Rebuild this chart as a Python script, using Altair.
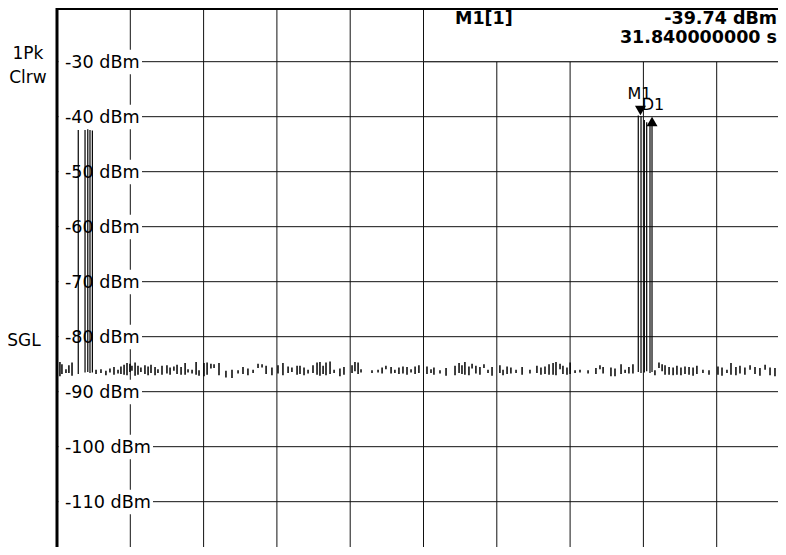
import altair as alt
import pandas as pd

# ---------------- data ----------------
grid_t = [4, 8, 12, 16, 20, 24, 28, 32, 36]                 # s
grid_db = [-30, -40, -50, -60, -70, -80, -90, -100, -110]    # dBm
tick_labels = ["-30 dBm", "-40 dBm", "-50 dBm", "-60 dBm", "-70 dBm",
               "-80 dBm", "-90 dBm", "-100 dBm", "-110 dBm"]

# noise floor: short vertical trace segments (time, upper, lower)
noise_t = [0.16, 0.27, 0.49, 0.65, 0.82,
           2.13, 2.40, 2.67, 2.89, 3.11, 3.33, 3.49, 3.66, 3.82, 3.98, 4.09,
           4.26, 4.42, 4.58, 4.80, 4.97, 5.13, 5.35, 5.51, 5.73,
           6.00, 6.17, 6.38, 6.55, 6.77, 6.99, 7.15, 7.37,
           7.59, 7.75, 8.02,
           8.19, 8.40, 8.57, 8.84, 9.22, 9.55,
           9.88, 10.15, 10.42, 10.70, 10.97, 11.19, 11.41, 11.73, 12.06, 12.33, 12.61, 12.82, 13.10,
           13.26, 13.48, 13.70, 13.97, 14.19, 14.35, 14.52, 14.68, 14.90, 15.12, 15.44, 15.66,
           16.10, 16.26, 16.43, 16.59,
           17.19, 17.52, 17.74, 17.95, 18.23, 18.44, 18.66, 18.88, 19.10, 19.32, 19.54, 19.75,
           20.19, 20.41, 20.57, 20.90, 21.23,
           21.72, 21.94, 22.10, 22.26, 22.48, 22.65, 22.86, 23.08, 23.30, 23.52, 23.74,
           24.17, 24.34, 24.56, 24.77, 25.05, 25.38, 25.81, 26.19, 26.41,
           26.63, 26.85, 27.07, 27.23, 27.45, 27.61, 27.83, 28.00,
           28.27, 28.54, 28.98, 29.41, 29.63, 29.80, 30.23, 30.45, 30.78, 31.00, 31.21, 31.43,
           32.63, 32.85, 33.02, 33.18, 33.40, 33.62, 33.83, 34.05, 34.27, 34.49, 34.71, 34.92, 35.25, 35.58,
           36.07, 36.29, 36.56, 36.78, 37.05, 37.27, 37.54, 37.82, 38.09, 38.36, 38.64, 38.91, 39.18, 39.40, 39.62]
noise_hi = [-84.6, -85.0, -85.9, -85.2, -84.7,
            -86.0, -85.9, -86.2, -85.8, -85.5, -86.0, -85.4, -85.1, -84.8, -84.9, -85.3,
            -84.7, -85.3, -85.6, -85.2, -85.4, -85.1, -85.5, -85.9, -85.3,
            -85.2, -85.6, -85.4, -85.1, -85.5, -84.8, -85.9, -86.0,
            -84.6, -86.1, -84.8,
            -84.7, -84.9, -85.0, -84.8, -86.2, -86.0,
            -86.1, -85.5, -85.8, -86.0, -84.9, -85.0, -85.3, -85.6, -85.2, -84.8, -85.4, -85.6, -85.3,
            -85.3, -85.6, -86.0, -85.2, -84.7, -84.6, -85.3, -84.7, -84.5, -86.0, -85.8, -85.5,
            -85.2, -84.6, -84.7, -85.9,
            -86.1, -86.0, -85.6, -85.3, -85.5, -86.0, -85.6, -85.4, -85.5, -85.9, -85.4, -85.2,
            -85.4, -85.9, -85.6, -86.1, -85.7,
            -85.3, -84.8, -85.2, -84.6, -85.4, -84.9, -85.3, -85.5, -85.0, -86.0, -85.5,
            -85.2, -86.0, -85.4, -85.6, -86.0, -85.5, -86.0, -85.3, -85.6,
            -85.4, -85.0, -84.8, -84.6, -84.9, -85.3, -85.6, -84.7,
            -86.1, -86.0, -86.1, -85.7, -85.2, -85.5, -85.6, -85.8, -85.0, -86.0, -85.5, -85.0,
            -86.1, -84.7, -85.0, -85.2, -85.5, -85.6, -85.3, -85.6, -85.4, -85.5, -85.6, -85.3, -86.0, -86.1,
            -85.4, -85.6, -86.0, -84.8, -85.5, -85.3, -85.6, -85.2, -85.5, -85.7, -85.1, -85.6, -85.7, -84.9, -84.8]
noise_lo = [-87.2, -86.8, -86.6, -86.6, -87.1,
            -86.8, -86.6, -87.0, -86.5, -86.9, -86.7, -86.8, -86.9, -87.0, -86.4, -86.2,
            -87.1, -86.9, -86.4, -86.8, -87.0, -86.6, -87.0, -86.6, -86.9,
            -86.7, -86.9, -86.2, -86.8, -86.9, -86.9, -86.5, -86.7,
            -86.9, -87.1, -87.2,
            -86.9, -85.8, -85.7, -87.0, -87.4, -87.5,
            -86.7, -86.8, -87.0, -86.6, -85.7, -85.6, -86.8, -87.0, -86.7, -87.0, -86.6, -86.4, -86.9,
            -86.8, -87.0, -86.7, -86.6, -86.9, -87.1, -86.8, -87.0, -86.8, -86.6, -87.2, -86.9,
            -86.6, -86.3, -86.8, -86.5,
            -86.6, -86.5, -86.7, -85.9, -86.7, -86.6, -86.8, -86.7, -86.9, -86.5, -86.8, -86.6,
            -86.8, -86.6, -86.9, -86.7, -87.1,
            -87.0, -86.6, -86.8, -86.9, -87.0, -85.8, -86.7, -86.9, -85.7, -86.6, -87.1,
            -86.6, -87.0, -86.8, -86.7, -86.6, -86.9, -86.7, -86.6, -86.9,
            -86.8, -86.9, -86.9, -87.0, -85.9, -86.8, -86.9, -86.8,
            -86.6, -86.5, -86.7, -86.8, -85.9, -86.7, -87.2, -87.2, -86.8, -86.6, -86.7, -86.7,
            -87.0, -85.7, -86.3, -86.9, -86.9, -87.0, -86.9, -87.0, -86.8, -86.9, -87.1, -86.8, -86.6, -86.9,
            -86.9, -87.1, -86.6, -86.9, -87.0, -86.7, -86.9, -86.0, -86.8, -87.1, -86.0, -87.0, -87.2, -86.6, -85.7]

# burst spikes (time, peak level, floor level)
burst_t = [1.16, 1.53, 1.68, 1.80, 1.93, 31.72, 31.87, 32.05, 32.18, 32.36, 32.47]
burst_top = [-42.4, -42.4, -42.3, -42.4, -42.5, -39.8, -39.9, -40.6, -41.0, -41.4, -41.2]
burst_floor = [-86.8, -86.5, -86.4, -86.6, -86.5, -86.4, -86.6, -86.5, -86.3, -86.6, -86.4]

# markers
m1_t, m1_db = 31.84, -39.74
d1_t, d1_db = 32.47, -40.0
m1_name = "M1[1]"
m1_level_txt = f"{m1_db:.2f} dBm"
m1_time_txt = f"{m1_t:.9f} s"
side_labels = ["1Pk", "Clrw", "SGL"]

# ---------------- layout ----------------
W, H = 721, 539
PX_PER_S = 18.325
T_MAX = W / PX_PER_S
DB_TOP, DB_BOT = -20.24, -118.24
FONT = "DejaVu Sans"
LABEL_FS = 17.6

xsc = alt.Scale(domain=[0, T_MAX], nice=False, zero=False)
ysc = alt.Scale(domain=[DB_BOT, DB_TOP], nice=False, zero=False)


def X(f):
    return alt.X(f"{f}:Q", scale=xsc, axis=None)


def Y(f):
    return alt.Y(f"{f}:Q", scale=ysc, axis=None)


def box_path(label):
    # white box behind a tick label; unit = 50 px (symbol size 10000)
    w = (77 if len(label) <= 7 else 88) / 50.0
    return f"M-0.13,-0.24H{w:.3f}V0.25H-0.13Z"


one = pd.DataFrame({"a": [0]})
df_vg = pd.DataFrame({"t": grid_t})
df_hg = pd.DataFrame({"db": grid_db, "label": tick_labels,
                      "box": [box_path(s) for s in tick_labels]})
df_noise = pd.DataFrame({"t": noise_t, "hi": noise_hi, "lo": noise_lo})
df_burst = pd.DataFrame({"t": burst_t, "hi": burst_top, "lo": burst_floor})
df_m1 = pd.DataFrame({"t": [m1_t], "db": [m1_db], "name": ["M1"]})
df_d1 = pd.DataFrame({"t": [d1_t], "db": [d1_db], "name": ["D1"]})
df_box = pd.DataFrame({"t": [20], "db": [-30]})

vgrid = alt.Chart(df_vg).mark_rule(color="#111", strokeWidth=1).encode(x=X("t"))
hgrid = alt.Chart(df_hg).mark_rule(color="#111", strokeWidth=1).encode(y=Y("db"))

box = alt.Chart(df_box).mark_rect(fill="white", stroke="#111", strokeWidth=1).encode(
    x=X("t"), y=Y("db"), x2=alt.value(W + 30), y2=alt.value(-20))

label_bg = alt.Chart(df_hg).mark_point(
    filled=True, fill="white", strokeWidth=0, opacity=1, size=10000
).encode(x=alt.value(8), y=Y("db"), shape=alt.Shape("box:N", scale=None, legend=None))
labels = alt.Chart(df_hg).mark_text(
    align="left", baseline="middle", font=FONT, fontSize=LABEL_FS, color="black", dy=1
).encode(x=alt.value(8), y=Y("db"), text="label:N")

noise = alt.Chart(df_noise).mark_rule(color="black", strokeWidth=1.5).encode(
    x=X("t"), y=Y("hi"), y2="lo")
bursts = alt.Chart(df_burst).mark_rule(color="black", strokeWidth=1.2).encode(
    x=X("t"), y=Y("hi"), y2="lo")

m1_tri = alt.Chart(df_m1).mark_point(
    shape="triangle-down", filled=True, color="black", size=121, opacity=1, yOffset=-4.8
).encode(x=X("t"), y=Y("db"))
d1_tri = alt.Chart(df_d1).mark_point(
    shape="triangle-up", filled=True, color="black", size=121, opacity=1, yOffset=4.8
).encode(x=X("t"), y=Y("db"))
m1_lab = alt.Chart(df_m1).mark_text(
    font=FONT, fontSize=16, color="black", dy=-21, dx=-1
).encode(x=X("t"), y=Y("db"), text="name:N")
d1_lab = alt.Chart(df_d1).mark_text(
    font=FONT, fontSize=16, color="black", dy=-12, dx=1
).encode(x=X("t"), y=Y("db"), text="name:N")

hdr_name = alt.Chart(one).mark_text(
    align="left", baseline="middle", font=FONT, fontSize=17.5, fontWeight="bold"
).encode(x=alt.value(398), y=alt.value(11), text=alt.value(m1_name))
hdr_level = alt.Chart(one).mark_text(
    align="right", baseline="middle", font=FONT, fontSize=17.5, fontWeight="bold"
).encode(x=alt.value(W - 1), y=alt.value(11), text=alt.value(m1_level_txt))
hdr_time = alt.Chart(one).mark_text(
    align="right", baseline="middle", font=FONT, fontSize=17.5, fontWeight="bold"
).encode(x=alt.value(W - 1), y=alt.value(30), text=alt.value(m1_time_txt))

top_border = alt.Chart(one).mark_rule(color="black", strokeWidth=2).encode(y=alt.value(1))
left_border = alt.Chart(one).mark_rule(color="black", strokeWidth=3).encode(x=alt.value(0))

side1 = alt.Chart(one).mark_text(font=FONT, fontSize=17, align="center", baseline="middle").encode(
    x=alt.value(-29), y=alt.value(46), text=alt.value(side_labels[0]))
side2 = alt.Chart(one).mark_text(font=FONT, fontSize=17, align="center", baseline="middle").encode(
    x=alt.value(-29), y=alt.value(70), text=alt.value(side_labels[1]))
side3 = alt.Chart(one).mark_text(font=FONT, fontSize=17, align="center", baseline="middle").encode(
    x=alt.value(-33), y=alt.value(333), text=alt.value(side_labels[2]))

chart = alt.layer(
    vgrid, hgrid, box, label_bg, labels, noise, bursts,
    m1_tri, d1_tri, m1_lab, d1_lab,
    hdr_name, hdr_level, hdr_time,
    top_border, left_border, side1, side2, side3
).properties(
    width=W, height=H,
    padding={"left": 49, "top": 0, "right": 0, "bottom": 0},
    autosize=alt.AutoSizeParams(type="none"),
).configure_view(stroke=None).configure(background="white")

chart.save("out.html", embed_options={"renderer": "svg", "actions": False})
